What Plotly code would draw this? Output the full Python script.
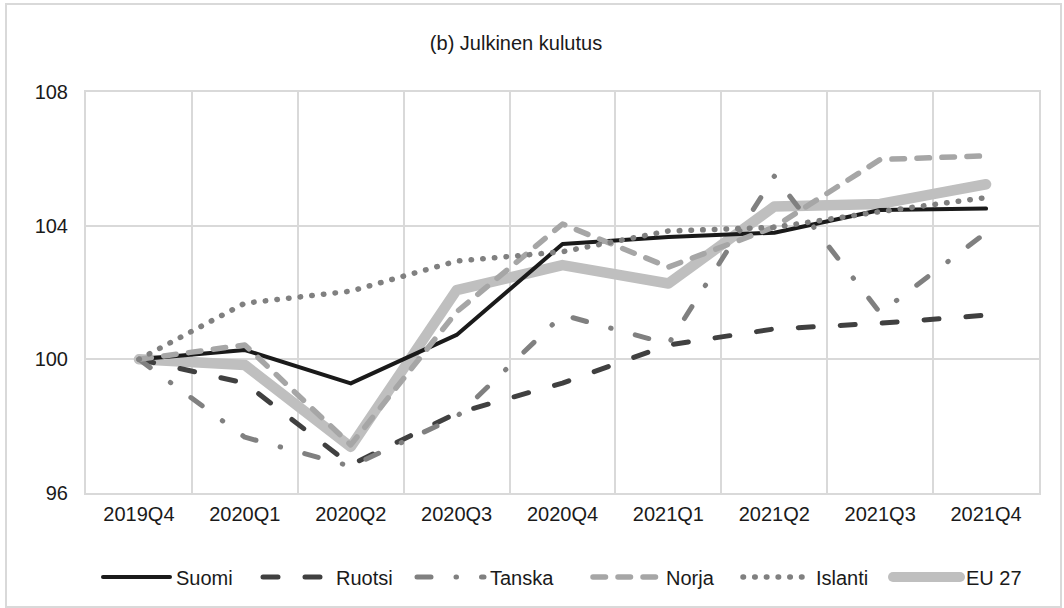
import plotly.graph_objects as go

quarters = ["2019Q4", "2020Q1", "2020Q2", "2020Q3", "2020Q4", "2021Q1", "2021Q2", "2021Q3", "2021Q4"]

suomi   = [100.0, 100.28, 99.28, 100.73, 103.45, 103.66, 103.79, 104.47, 104.51]
ruotsi  = [100.0, 99.29, 96.84, 98.39, 99.29, 100.43, 100.91, 101.08, 101.32]
tanska  = [100.0, 97.67, 96.80, 98.28, 101.33, 100.46, 105.48, 101.39, 103.79]
norja   = [100.0, 100.43, 97.44, 101.42, 104.05, 102.76, 103.96, 105.98, 106.09]
islanti = [100.0, 101.68, 102.04, 102.94, 103.22, 103.84, 103.95, 104.42, 104.84]
eu27    = [100.0, 99.83, 97.38, 102.07, 102.82, 102.27, 104.57, 104.65, 105.24]

y_ticks = [96, 100, 104, 108]

FONT = "Liberation Sans, Arial, Helvetica, sans-serif"
W, H = 1064, 608
L, R, T, B = 86, 25, 92, 115
pw, ph = W - L - R, H - T - B


def px2paper_x(px):
    return (px - L) / pw


def px2paper_y(py):
    return (H - B - py) / ph


# (name, values, line style, legend id, legend text start in px)
series = [
    ("EU 27", eu27, dict(color="#bfbfbf", width=10.5), "legend6", 968),
    ("Suomi", suomi, dict(color="#1a1a1a", width=4), "legend", 178),
    ("Ruotsi", ruotsi, dict(color="#404040", width=5, dash="15px,27px"), "legend2", 338),
    ("Tanska", tanska, dict(color="#808080", width=5, dash="14px,25px,0.5px,25px"), "legend3", 492),
    ("Norja", norja, dict(color="#a6a6a6", width=5.5, dash="12.5px,12.5px"), "legend4", 668),
    ("Islanti", islanti, dict(color="#808080", width=5.5, dash="0.5px,11.2px"), "legend5", 818),
]

fig = go.Figure()
legend_layout = {}
for name, vals, line, lg, text_x in series:
    fig.add_trace(go.Scatter(
        x=quarters, y=vals, name=name, mode="lines", line=line, legend=lg,
    ))
    legend_layout[lg] = dict(
        orientation="h", xref="container", yref="container",
        x=(text_x - 42) / W, y=1 - 577 / H, xanchor="left", yanchor="middle",
        font=dict(family=FONT, size=20, color="#1a1a1a"),
        bgcolor="rgba(0,0,0,0)", borderwidth=0,
    )

fig.update_layout(
    width=W, height=H,
    margin=dict(l=L, r=R, t=T, b=B, autoexpand=False),
    paper_bgcolor="white", plot_bgcolor="white",
    font=dict(family=FONT, size=20, color="#1a1a1a"),
    title=dict(text="(b) Julkinen kulutus", x=px2paper_x(516), xref="paper",
               y=1 - 43 / H, yref="container", xanchor="center", yanchor="middle",
               font=dict(family=FONT, size=20, color="#1a1a1a")),
    showlegend=True,
    xaxis=dict(type="category", categoryorder="array", categoryarray=quarters,
               range=[-0.5, len(quarters) - 0.5], tickson="boundaries",
               showgrid=True, gridcolor="#d9d9d9", gridwidth=2,
               showline=True, linecolor="#d9d9d9", linewidth=2, mirror=True,
               ticks="", ticklabelstandoff=2, fixedrange=True),
    yaxis=dict(range=[96, 108], tickvals=y_ticks, ticktext=[str(v) for v in y_ticks],
               showgrid=True, gridcolor="#d9d9d9", gridwidth=2, zeroline=False,
               showline=True, linecolor="#d9d9d9", linewidth=2, mirror=True,
               ticks="", ticklabelstandoff=12, fixedrange=True),
    shapes=[dict(type="rect", xref="paper", yref="paper",
                 x0=px2paper_x(6), x1=px2paper_x(1061),
                 y0=px2paper_y(607), y1=px2paper_y(4),
                 line=dict(color="#d9d9d9", width=2), fillcolor="rgba(0,0,0,0)",
                 layer="below")],
    **legend_layout,
)

post = """
document.body.style.margin = '0';
var gd = document.getElementById('{plot_id}');
gd.querySelectorAll('path.js-line').forEach(function(p){
  p.style.strokeLinecap = 'round';
  p.style.strokeLinejoin = 'round';
});
gd.querySelectorAll('.legendlines path').forEach(function(p){
  p.setAttribute('d', 'M-33,0h67');
  var el = p.parentNode;
  while (el && el.tagName && el.tagName.toLowerCase() !== 'svg') {
    if (el.hasAttribute && el.hasAttribute('clip-path')) el.removeAttribute('clip-path');
    el = el.parentNode;
  }
});
"""

fig.write_html("out.html", post_script=post, config={"displayModeBar": False})
